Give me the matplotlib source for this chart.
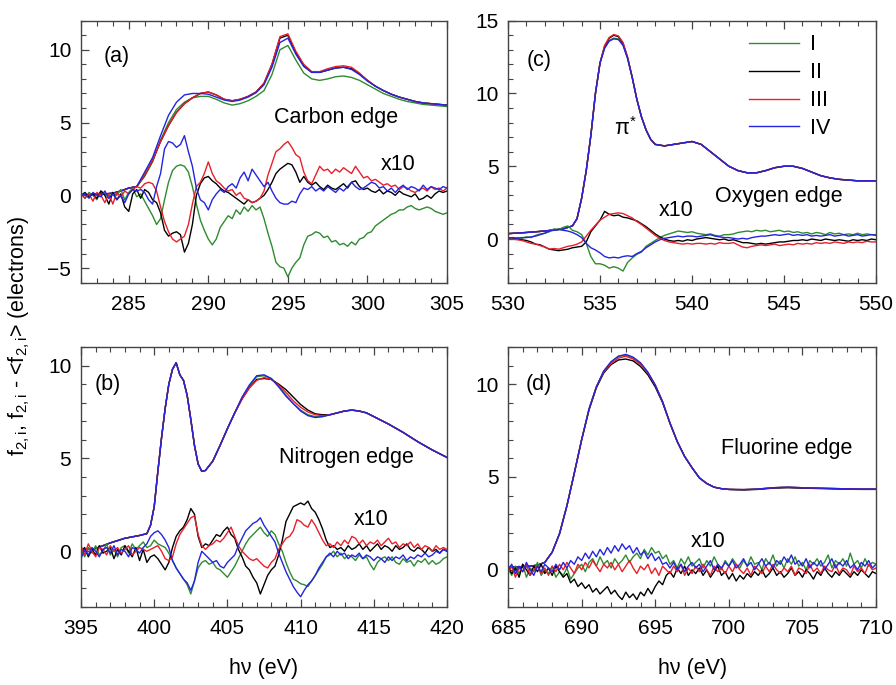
import numpy as np
import matplotlib
matplotlib.use('Agg')
import matplotlib.pyplot as plt
from matplotlib.ticker import MultipleLocator

plt.rcParams['font.family'] = ['Liberation Sans', 'DejaVu Sans']
plt.rcParams['mathtext.fontset'] = 'custom'
plt.rcParams['mathtext.rm'] = 'Liberation Sans'
plt.rcParams['mathtext.it'] = 'Liberation Sans:italic'

series_names = ['I', 'II', 'III', 'IV']
series_colors = ['#2e8b2e', '#000000', '#e8202a', '#2424e0']

# ============= CARBON EDGE (a) =============
# main spectra on a 0.5 eV grid, 282 .. 305 eV
carbon_I = [0.0, 0.05, 0.1, 0.1, 0.15, 0.3, 0.5, 0.6, 1.3, 2.3, 3.8, 5.0, 5.9, 6.4, 6.7, 6.8,
            6.8, 6.6, 6.35, 6.2, 6.3, 6.5, 6.8, 7.2, 8.3, 10.0, 10.3, 9.3, 8.4, 8.0, 7.9, 8.0,
            8.15, 8.2, 8.1, 7.9, 7.6, 7.3, 7.0, 6.8, 6.6, 6.45, 6.35, 6.25, 6.2, 6.15, 6.1]
carbon_II = [0.0, 0.05, 0.1, 0.1, 0.15, 0.3, 0.5, 0.6, 1.4, 2.4, 3.7, 4.8, 5.7, 6.3, 6.7, 7.0,
             7.1, 6.9, 6.6, 6.5, 6.6, 6.8, 7.1, 7.7, 9.0, 10.8, 11.0, 9.8, 8.9, 8.45, 8.45, 8.6,
             8.75, 8.8, 8.7, 8.35, 7.9, 7.5, 7.2, 6.95, 6.75, 6.6, 6.45, 6.35, 6.3, 6.25, 6.2]
carbon_III = [0.0, 0.05, 0.1, 0.1, 0.15, 0.3, 0.5, 0.6, 1.4, 2.4, 3.7, 4.8, 5.7, 6.3, 6.7, 7.0,
              7.1, 6.9, 6.6, 6.5, 6.6, 6.8, 7.1, 7.7, 9.0, 10.9, 11.1, 9.9, 9.0, 8.5, 8.5, 8.7,
              8.85, 8.9, 8.8, 8.4, 7.9, 7.5, 7.2, 6.95, 6.75, 6.6, 6.45, 6.35, 6.3, 6.25, 6.2]
carbon_IV = [0.0, 0.05, 0.1, 0.1, 0.15, 0.3, 0.5, 0.6, 1.6, 2.6, 4.1, 5.5, 6.4, 6.9, 7.0, 7.0,
             6.95, 6.75, 6.55, 6.45, 6.55, 6.75, 7.05, 7.6, 8.8, 10.5, 10.8, 9.7, 8.85, 8.45, 8.45, 8.6,
             8.75, 8.8, 8.65, 8.3, 7.85, 7.5, 7.2, 6.95, 6.75, 6.6, 6.45, 6.35, 6.3, 6.25, 6.2]
# x10 differences on a 0.25 eV grid, 282 .. 305 eV
carbon_dI = [0.1, -0.2, 0.2, 0.0, -0.3, 0.3, 0.1, -0.2, 0.2, 0.0, 0.4, -0.3, 0.2, 0.5, -0.1,
             0.1,
             -0.4, -0.9, -1.4, -2.0, -1.6, -0.3, 0.9, 1.7, 2.0, 2.1, 2.0, 1.6, 0.6, -0.6, -1.7, -2.4,
             -3.0, -3.4, -3.0, -2.2, -1.8, -1.4, -1.6, -1.0, -1.3, -0.8, -1.1, -0.7, -1.0, -0.8, -1.6, -2.6,
             -3.5, -4.6, -4.9, -5.0, -5.6, -5.0, -4.6, -4.3, -3.4, -2.8, -2.7, -2.5, -2.6, -2.9, -2.8, -3.2,
             -3.1, -3.4, -3.3, -3.5, -3.2, -3.4, -3.0, -2.9, -2.6, -2.5, -2.1, -1.9, -1.7, -1.5, -1.3, -1.2,
             -1.0, -1.0, -0.8, -0.7, -0.9, -1.0, -0.9, -0.8, -0.9, -1.1, -1.2, -1.3, -1.2]
carbon_dII = [0.0, 0.2, -0.1, 0.1, -0.2, 0.3, 0.0, -0.6, 0.2, -0.3, 0.1, -0.8, -1.1, 0.1, 0.4,
              -0.2,
              0.4, 0.2, -0.3, -0.5, -1.2, -2.4, -2.8, -2.6, -2.5, -2.7, -3.9, -3.3, -2.0, 0.0, 0.8, 1.2,
              1.3, 1.0, 0.8, 0.5, 0.3, 0.2, 0.0, -0.2, -0.4, -0.6, -0.3, -0.5, -0.4, -0.2, 0.0, 0.4,
              0.9, 1.5, 1.8, 2.0, 2.2, 2.1, 1.6, 0.9, 1.3, 0.9, 0.7, 0.9, 0.6, 0.4, 0.7, 0.5,
              0.4, 0.6, 0.8, 0.5, 0.9, 1.0, 0.6, 0.4, 0.5, 0.3, 0.2, 0.4, 0.1, 0.3, 0.2, 0.0,
              0.3, 0.1, 0.0, -0.1, 0.1, -0.3, -0.2, 0.0, -0.2, 0.1, 0.3, 0.2, 0.3]
carbon_dIII = [0.1, -0.2, 0.1, -0.4, 0.2, 0.0, -0.5, 0.1, -0.6, 0.2, -0.1, 0.3, 0.1, 0.4, 0.6,
               0.5,
               0.8, 0.9, 0.8, 0.3, -0.8, -1.8, -2.5, -3.0, -3.2, -3.0, -2.8, -2.0, -0.6, 0.6, 0.9, 1.5,
               2.3, 1.5, 1.0, 0.8, 0.5, 0.3, 0.4, 0.0, 0.2, -0.2, -0.3, -0.5, -0.4, -0.2, 0.3, 1.4,
               2.2, 3.0, 3.2, 3.5, 3.7, 3.3, 2.8, 2.6, 1.6, 1.0, 0.8, 1.4, 2.0, 1.7, 1.8, 1.5,
               1.8, 1.6, 1.9, 1.7, 1.5, 2.0, 1.6, 1.2, 1.3, 1.0, 1.1, 0.9, 0.7, 0.8, 0.6, 0.7,
               0.4, 0.6, 0.5, 0.3, 0.2, 0.4, 0.5, 0.3, 0.6, 0.4, 0.5, 0.3, 0.5]
carbon_dIV = [0.0, 0.1, -0.2, 0.2, 0.0, -0.1, 0.3, -0.2, 0.1, -0.3, 0.0, -0.5, 0.1, 0.4, 0.3,
              0.4,
              0.2, -0.3, -0.6, 0.6, 1.5, 3.2, 3.7, 3.6, 3.3, 3.5, 4.1, 3.0, 2.0, 0.5, -0.3, -0.5,
              -1.0, -0.3, 0.1, 0.4, 0.2, 0.6, 0.8, 0.5, 1.2, 1.6, 1.0, 1.8, 1.4, 1.0, 0.6, 0.9,
              0.3, -0.2, -0.5, -0.6, -0.6, -0.4, -0.5, 0.1, 0.5, 0.4, 0.6, 0.3, 0.5, 0.3, 0.6, 0.4,
              0.2, 0.5, 0.3, 0.6, 0.9, 0.6, 0.4, 0.5, 0.7, 0.9, 0.8, 0.5, 0.6, 0.3, 0.5, 0.2,
              0.5, 0.7, 0.4, 0.6, 0.5, 0.3, 0.7, 0.4, 0.6, 0.5, 0.4, 0.6, 0.5]

# ============= NITROGEN EDGE (b) =============
nitrogen_e = [395, 396, 397, 398, 399, 399.5, 399.75, 400, 400.25, 400.5, 400.75, 401, 401.25,
              401.5, 401.75, 402, 402.25, 402.5, 402.75, 403, 403.25, 403.5, 403.75, 404, 404.5,
              405, 405.5, 406, 406.5, 407, 407.5, 408, 408.5, 409, 409.5, 410, 410.5, 411, 411.5,
              412, 412.5, 413, 413.5, 414, 414.5, 415, 416, 417, 418, 419, 420]
nitrogen_I = [0.05, 0.15, 0.45, 0.7, 0.85, 0.95, 1.4, 2.4, 4.3, 6.1, 7.7, 9.0, 9.8, 10.15, 9.5,
              9.2, 8.4, 7.1, 5.7, 4.7, 4.3, 4.35, 4.6, 4.85, 5.7, 6.6, 7.45, 8.25, 8.9, 9.4, 9.45,
              9.3, 8.9, 8.4, 7.95, 7.6, 7.35, 7.25, 7.25, 7.35, 7.45, 7.55, 7.6, 7.55, 7.45, 7.25,
              6.85, 6.4, 5.9, 5.45, 5.05]
nitrogen_II = [0.05, 0.15, 0.45, 0.7, 0.85, 0.95, 1.4, 2.4, 4.3, 6.1, 7.7, 9.0, 9.8, 10.15, 9.5,
               9.2, 8.4, 7.1, 5.7, 4.7, 4.3, 4.35, 4.6, 4.85, 5.7, 6.6, 7.45, 8.2, 8.8, 9.25, 9.3,
               9.25, 9.0, 8.7, 8.3, 7.9, 7.6, 7.4, 7.35, 7.35, 7.45, 7.55, 7.6, 7.55, 7.45, 7.25,
               6.85, 6.4, 5.9, 5.45, 5.05]
nitrogen_III = [0.05, 0.15, 0.45, 0.7, 0.85, 0.95, 1.4, 2.4, 4.3, 6.1, 7.7, 9.0, 9.8, 10.15, 9.5,
                9.2, 8.4, 7.1, 5.7, 4.7, 4.3, 4.35, 4.6, 4.85, 5.7, 6.6, 7.45, 8.2, 8.8, 9.2, 9.35,
                9.25, 8.95, 8.55, 8.1, 7.75, 7.5, 7.35, 7.3, 7.35, 7.45, 7.55, 7.6, 7.55, 7.45, 7.25,
                6.85, 6.4, 5.9, 5.45, 5.05]
nitrogen_IV = [0.05, 0.15, 0.45, 0.7, 0.85, 0.95, 1.4, 2.4, 4.3, 6.1, 7.7, 9.0, 9.8, 10.15, 9.5,
               9.2, 8.4, 7.1, 5.7, 4.7, 4.3, 4.35, 4.6, 4.85, 5.7, 6.6, 7.45, 8.3, 8.95, 9.45, 9.5,
               9.3, 8.85, 8.35, 7.95, 7.55, 7.3, 7.2, 7.25, 7.35, 7.45, 7.55, 7.6, 7.55, 7.45, 7.25,
               6.85, 6.4, 5.9, 5.45, 5.05]
# x10 differences, 0.25 eV grid, 395 .. 420 eV
nitrogen_dI = [0.1, -0.3, 0.2, -0.1, 0.3, -0.2, 0.0, 0.4, -0.2, 0.1, -0.3, 0.2, 0.3, -0.1, 0.4, 0.1, 0.3, 0.5, 0.2, 0.3,
               0.6, 0.4, 0.3, 0.2, -0.1, -0.5, -0.9, -1.2, -1.5, -1.8, -2.3, -1.6, -0.9, -0.6, -0.5, -0.7,
               -0.6, -0.9, -1.0, -1.2, -1.4, -1.1, -0.8, -0.4, 0.0, 0.4, 0.7, 0.9, 1.1, 1.3, 1.0, 0.8,
               1.1, 0.9, 0.4, 0.0, -0.6, -1.1, -1.5, -1.6, -1.75, -1.8, -1.9, -1.6, -1.3, -1.0, -0.7, -0.3,
               -0.2, 0.0, -0.3, -0.1, -0.4, -0.2, -0.3, -0.5, -0.2, -0.4, -0.3, -0.7, -1.0, -0.6, -0.4, -0.3,
               -0.5, -0.3, -0.6, -0.7, -0.4, -0.6, -0.5, -0.8, -0.5, -0.6, -0.4, -0.7, -0.5, -0.7, -0.6, -0.4,
               -0.3]
nitrogen_dII = [0.0, 0.2, -0.3, 0.1, -0.2, 0.3, -0.1, 0.0, 0.2, -0.4, 0.1, -0.2, 0.3, 0.0, -0.3, 0.2, -0.5, 0.1, -0.6, -0.3,
                -0.2, -0.4, -0.7, -1.0, -0.6, 0.2, 0.8, 1.1, 1.3, 1.7, 2.3, 2.0, 0.8, 0.2, 0.4, 0.3,
                0.6, 0.9, 0.8, 1.1, 1.3, 0.9, 0.7, 0.1, -0.3, -0.8, -1.0, -1.4, -1.7, -2.3, -1.8, -1.3,
                -1.0, -0.8, -0.2, 0.6, 1.6, 2.0, 2.4, 2.5, 2.6, 2.5, 2.7, 2.3, 2.1, 1.7, 1.2, 0.6,
                0.2, 0.3, 0.1, 0.2, 0.0, 0.3, 0.1, 0.2, 0.4, 0.1, 0.3, 0.0, 0.2, 0.4, 0.1, 0.3,
                0.2, 0.0, 0.3, 0.1, 0.2, 0.4, 0.1, 0.0, 0.2, 0.1, -0.1, 0.2, 0.0, 0.1, -0.1, 0.1,
                0.0]
nitrogen_dIII = [0.3, -0.2, 0.4, 0.0, -0.3, 0.2, 0.1, -0.2, 0.3, 0.0, 0.2, -0.1, 0.1, 0.3, -0.2, 0.0, 0.2, 0.1, 0.0, 0.1,
                 0.2, 0.3, 0.0, -0.4, -0.5, -0.3, 0.4, 0.9, 1.2, 1.5, 1.8, 1.9, 0.9, 0.3, 0.1, 0.3,
                 0.4, 0.6, 0.5, 0.7, 1.0, 1.3, 0.8, 0.3, 0.0, -0.2, -0.4, -0.5, -0.4, -0.6, -0.8, -0.9,
                 -0.6, -0.4, 0.1, 0.4, 0.7, 0.8, 1.1, 1.7, 1.6, 1.4, 1.3, 1.7, 1.4, 1.0, 0.6, 0.3,
                 0.4, 0.2, 0.5, 0.3, 0.6, 0.4, 0.8, 0.7, 0.4, 0.6, 0.3, 0.5, 0.4, 0.6, 0.3, 0.5,
                 0.7, 0.4, 0.5, 0.2, 0.4, 0.3, 0.5, 0.2, 0.4, 0.1, 0.3, 0.2, 0.0, 0.3, 0.1, 0.2,
                 0.1]
nitrogen_dIV = [-0.4, 0.1, -0.2, 0.2, 0.0, -0.3, 0.1, 0.2, -0.1, 0.3, -0.2, 0.1, 0.0, -0.3, 0.2, 0.1, -0.1, 0.2, 0.4, 0.8,
                1.0, 1.1, 0.9, 0.6, 0.2, -0.5, -0.9, -1.2, -1.5, -1.7, -2.1, -1.6, -0.6, 0.0, -0.2, -0.4,
                -0.6, -0.5, -0.8, -0.9, -0.6, -0.4, -0.2, 0.3, 0.7, 1.1, 1.3, 1.5, 1.6, 1.8, 1.4, 1.1,
                0.8, 0.5, -0.1, -0.6, -1.1, -1.5, -1.9, -2.2, -2.45, -2.1, -1.8, -1.6, -1.3, -0.9, -0.6, -0.3,
                -0.1, -0.3, 0.0, -0.2, -0.1, -0.4, -0.2, -0.3, -0.1, -0.4, -0.2, -0.3, -0.5, -0.3, -0.4, -0.6,
                -0.3, -0.5, -0.3, -0.4, -0.2, -0.5, -0.3, -0.4, -0.2, -0.3, -0.1, -0.3, -0.2, 0.0, -0.1, 0.1,
                0.0]

# ============= OXYGEN EDGE (c) =============
oxygen_e = [530, 531, 532, 533, 533.5, 533.75, 534, 534.25, 534.5, 534.75, 535, 535.25, 535.5,
            535.75, 536, 536.25, 536.5, 536.75, 537, 537.25, 537.5, 537.75, 538, 538.5, 539,
            539.5, 540, 540.5, 541, 541.5, 542, 542.5, 543, 543.5, 544, 544.5, 545, 545.5, 546,
            546.5, 547, 547.5, 548, 549, 550]
oxygen_I = [0.37, 0.45, 0.55, 0.7, 0.9, 1.4, 2.8, 4.7, 7.1, 10.0, 12.1, 13.15, 13.65, 13.8, 13.75,
            13.35, 12.4, 11.1, 9.6, 8.4, 7.5, 6.85, 6.5, 6.4, 6.5, 6.6, 6.7, 6.5, 6.0, 5.5, 5.0,
            4.7, 4.55, 4.55, 4.7, 4.9, 5.0, 5.0, 4.85, 4.6, 4.35, 4.2, 4.1, 4.0, 4.0]
oxygen_II = [0.37, 0.45, 0.55, 0.7, 0.9, 1.4, 2.8, 4.7, 7.1, 10.0, 12.1, 13.25, 13.8, 14.0, 13.9,
             13.45, 12.45, 11.1, 9.6, 8.4, 7.5, 6.85, 6.5, 6.4, 6.5, 6.6, 6.7, 6.5, 6.0, 5.5, 5.0,
             4.7, 4.55, 4.55, 4.7, 4.9, 5.0, 5.0, 4.85, 4.6, 4.35, 4.2, 4.1, 4.0, 4.0]
oxygen_III = [0.37, 0.45, 0.55, 0.7, 0.9, 1.4, 2.8, 4.7, 7.1, 10.0, 12.1, 13.3, 13.85, 14.05, 13.95,
              13.5, 12.5, 11.1, 9.6, 8.4, 7.5, 6.85, 6.5, 6.4, 6.5, 6.6, 6.7, 6.5, 6.0, 5.5, 5.0,
              4.7, 4.55, 4.55, 4.7, 4.9, 5.0, 5.0, 4.85, 4.6, 4.35, 4.2, 4.1, 4.0, 4.0]
oxygen_IV = [0.37, 0.45, 0.55, 0.7, 0.9, 1.4, 2.8, 4.7, 7.1, 10.0, 12.1, 13.1, 13.6, 13.75, 13.7,
             13.3, 12.4, 11.1, 9.6, 8.4, 7.5, 6.85, 6.5, 6.4, 6.5, 6.6, 6.7, 6.5, 6.0, 5.5, 5.0,
             4.7, 4.55, 4.55, 4.7, 4.9, 5.0, 5.0, 4.85, 4.6, 4.35, 4.2, 4.1, 4.0, 4.0]
# x10 differences, 0.25 eV grid, 530 .. 550 eV
oxygen_dI = [0.05, 0.0, 0.1, 0.05, 0.15, 0.1, 0.25, 0.35, 0.4, 0.5, 0.7, 0.65, 0.8, 0.9, 0.6, 0.5,
             0.3, -0.3, -1.2, -1.7, -1.7, -1.8, -2.0, -1.9, -2.0, -2.2, -1.6, -1.3, -1.05, -0.9, -0.5, -0.3,
             -0.1, 0.1, 0.25, 0.35, 0.45, 0.55, 0.5, 0.45, 0.5, 0.4, 0.35, 0.3, 0.35, 0.25, 0.2, 0.3,
             0.3, 0.35, 0.45, 0.5, 0.55, 0.5, 0.6, 0.55, 0.6, 0.5, 0.55, 0.6, 0.5, 0.55, 0.45, 0.5,
             0.4, 0.45, 0.35, 0.45, 0.4, 0.3, 0.45, 0.35, 0.4, 0.3, 0.35, 0.3, 0.4, 0.3, 0.35, 0.3,
             0.3]
oxygen_dII = [0.1, 0.05, 0.0, -0.05, -0.1, -0.2, -0.35, -0.4, -0.55, -0.7, -0.75, -0.8, -0.75, -0.7, -0.6, -0.55,
              -0.5, -0.2, 0.5, 0.9, 1.3, 1.9, 1.7, 1.6, 1.65, 1.5, 1.45, 1.35, 1.25, 1.05, 0.85, 0.6,
              0.35, 0.15, 0.0, -0.1, -0.15, -0.1, -0.15, -0.05, -0.1, 0.0, 0.05, 0.1, 0.05, 0.0, -0.05, 0.0,
              -0.1, -0.05, -0.15, -0.25, -0.25, -0.3, -0.35, -0.3, -0.35, -0.3, -0.25, -0.2, -0.2, -0.15, -0.1, -0.1,
              -0.05, -0.1, 0.0, -0.05, -0.1, 0.0, -0.05, -0.1, -0.05, -0.1, -0.15, -0.05, -0.1, -0.05, -0.1, 0.0,
              -0.05]
oxygen_dIII = [0.05, 0.0, -0.05, -0.1, -0.2, -0.3, -0.35, -0.45, -0.55, -0.7, -0.65, -0.7, -0.6, -0.5, -0.45, -0.35,
               -0.2, 0.2, 0.6, 0.95, 1.3, 1.5, 1.7, 1.75, 1.8, 1.75, 1.6, 1.45, 1.2, 1.0, 0.75, 0.5,
               0.25, 0.05, -0.1, -0.2, -0.25, -0.3, -0.35, -0.3, -0.35, -0.3, -0.3, -0.35, -0.3, -0.35, -0.25, -0.3,
               -0.3, -0.25, -0.4, -0.55, -0.6, -0.5, -0.45, -0.4, -0.45, -0.4, -0.35, -0.45, -0.4, -0.35, -0.4, -0.3,
               -0.35, -0.3, -0.35, -0.25, -0.3, -0.25, -0.3, -0.2, -0.25, -0.3, -0.2, -0.25, -0.2, -0.25, -0.15, -0.2,
               -0.2]
oxygen_dIV = [0.05, 0.1, 0.05, 0.1, 0.1, 0.15, 0.2, 0.3, 0.4, 0.55, 0.6, 0.65, 0.6, 0.55, 0.45, 0.3,
              0.1, -0.3, -0.6, -0.75, -0.95, -1.2, -1.3, -1.25, -1.3, -1.2, -1.15, -1.2, -1.0, -0.85, -0.6, -0.4,
              -0.2, -0.05, 0.05, 0.1, 0.15, 0.2, 0.15, 0.2, 0.2, 0.15, 0.2, 0.25, 0.3, 0.2, 0.15, 0.1,
              0.1, 0.05, 0.0, 0.05, 0.0, 0.1, 0.15, 0.2, 0.2, 0.25, 0.3, 0.25, 0.3, 0.35, 0.25, 0.3,
              0.25, 0.3, 0.2, 0.25, 0.2, 0.25, 0.3, 0.2, 0.25, 0.3, 0.2, 0.25, 0.3, 0.2, 0.25, 0.3,
              0.25]

# ============= FLUORINE EDGE (d) =============
fluorine_e = [685, 686, 687, 687.5, 688, 688.5, 689, 689.5, 690, 690.5, 691, 691.5, 692, 692.5,
              693, 693.5, 694, 694.5, 695, 695.5, 696, 696.5, 697, 697.5, 698, 698.5, 699, 699.5,
              700, 701, 702, 703, 704, 705, 706, 707, 708, 709, 710]
fluorine_I = [0.15, 0.15, 0.25, 0.4, 0.95, 1.95, 3.45, 5.2, 7.0, 8.65, 9.85, 10.7, 11.2, 11.5,
              11.55, 11.4, 11.1, 10.6, 9.95, 9.05, 7.9, 6.9, 6.1, 5.5, 4.95, 4.65, 4.45, 4.37,
              4.33, 4.32, 4.35, 4.42, 4.45, 4.42, 4.4, 4.38, 4.36, 4.35, 4.35]
fluorine_II = [0.15, 0.15, 0.25, 0.4, 0.95, 1.95, 3.45, 5.2, 7.0, 8.6, 9.8, 10.6, 11.05, 11.3,
               11.35, 11.25, 10.95, 10.5, 9.85, 9.0, 7.9, 6.9, 6.1, 5.5, 4.95, 4.65, 4.45, 4.37,
               4.33, 4.3, 4.33, 4.4, 4.42, 4.4, 4.38, 4.36, 4.34, 4.33, 4.33]
fluorine_III = [0.15, 0.15, 0.25, 0.4, 0.95, 1.95, 3.45, 5.2, 7.0, 8.65, 9.85, 10.65, 11.1, 11.4,
                11.5, 11.35, 11.05, 10.6, 9.95, 9.05, 7.9, 6.9, 6.1, 5.5, 4.95, 4.65, 4.45, 4.37,
                4.33, 4.32, 4.35, 4.42, 4.45, 4.42, 4.4, 4.38, 4.36, 4.35, 4.35]
fluorine_IV = [0.15, 0.15, 0.25, 0.4, 0.95, 1.95, 3.45, 5.2, 7.0, 8.65, 9.85, 10.7, 11.2, 11.5,
               11.6, 11.45, 11.15, 10.65, 9.95, 9.05, 7.9, 6.9, 6.1, 5.5, 4.95, 4.65, 4.45, 4.37,
               4.33, 4.32, 4.35, 4.42, 4.45, 4.42, 4.4, 4.38, 4.36, 4.35, 4.35]
# x10 differences, 0.25 eV grid, 685 .. 710 eV
fluorine_dI = [0.1, -0.3, 0.2, -0.2, 0.3, -0.4, 0.1, -0.1, 0.4, -0.3, 0.0, -0.2,
               0.2, -0.4, -0.1, -0.3, 0.1, -0.5, -0.2, 0.1,
               0.3, -0.1, 0.4, 0.6, 0.2, 0.7, 0.3, 0.5,
               0.1, 0.6, 0.3, 0.5, 0.8, 0.4, 0.7, 0.9,
               0.6, 1.1, 0.8, 1.2, 0.9, 1.0, 0.6, 0.8,
               0.3, 0.5, 0.1, 0.6, 0.3, 0.7, 0.2, 0.4,
               0.6, 0.1, 0.5, 0.2, 0.7, 0.3, 0.0, 0.5,
               0.2, 0.6, 0.3, 0.1, 0.5, 0.2, 0.7, 0.3,
               0.4, 0.0, 0.6, 0.3, 0.8, 0.2, 0.5, 0.1,
               0.6, 0.3, 0.7, 0.2, 0.4, 0.0, 0.5, 0.3,
               0.6, 0.2, 0.4, 0.8, 0.1, 0.5, 0.3, 0.6,
               0.2, 0.9, 0.3, 0.5, 0.1, 0.6, 0.2, 0.4,
               0.3]
fluorine_dII = [0.2, -0.2, 0.1, -0.4, 0.3, 0.0, -0.3, 0.2, -0.1, 0.3, -0.2, 0.1,
                -0.3, 0.2, -0.1, -0.4, -0.2, -0.7, -0.5, -0.9,
                -0.7, -1.0, -0.8, -1.2, -1.0, -1.3, -1.1, -0.9,
                -1.3, -1.1, -1.4, -1.6, -1.2, -1.5, -1.3, -1.6,
                -1.2, -1.4, -1.0, -1.3, -0.9, -0.6, -0.8, -0.3,
                -0.1, -0.4, 0.1, -0.2, 0.2, -0.3, 0.0, -0.2,
                0.1, -0.3, 0.0, -0.4, -0.1, 0.2, -0.3, -0.1,
                -0.5, -0.2, -0.6, -0.3, -0.5, -0.2, -0.4, -0.1,
                -0.3, 0.0, -0.4, -0.2, 0.1, -0.3, -0.1, -0.4,
                -0.2, 0.1, -0.3, -0.1, -0.4, 0.0, -0.2, -0.5,
                -0.1, -0.3, 0.1, -0.2, -0.4, -0.1, -0.3, 0.0,
                -0.2, -0.4, -0.1, -0.3, 0.0, -0.2, -0.4, -0.1,
                -0.2]
fluorine_dIII = [-0.2, 0.2, -0.4, 0.1, -0.1, 0.3, -0.3, 0.0, 0.2, -0.2, 0.1, -0.3,
                 0.2, -0.1, 0.3, 0.0, 0.4, 0.1, -0.2, 0.3,
                 0.0, 0.4, 0.1, 0.5, 0.2, -0.1, 0.3, 0.1,
                 0.4, 0.0, 0.3, -0.1, 0.2, 0.5, 0.1, -0.2,
                 0.2, 0.0, 0.3, -0.2, 0.1, -0.3, 0.2, 0.0,
                 -0.2, 0.2, -0.1, 0.3, -0.3, 0.1, -0.2, 0.2,
                 -0.1, 0.3, 0.0, -0.3, 0.2, -0.1, 0.1, -0.2,
                 0.2, -0.1, 0.3, 0.0, -0.2, 0.1, -0.3, 0.2,
                 0.0, -0.2, 0.2, -0.1, 0.3, 0.0, -0.2, 0.1,
                 -0.1, 0.2, -0.3, 0.1, 0.0, -0.2, 0.3, -0.1,
                 0.1, -0.2, 0.2, 0.0, -0.1, 0.3, -0.2, 0.1,
                 0.0, -0.3, 0.2, -0.1, 0.1, -0.2, 0.3, 0.0,
                 0.1]
fluorine_dIV = [0.0, 0.3, -0.2, 0.2, -0.1, 0.4, 0.0, -0.3, 0.2, -0.1, 0.3, 0.1,
                -0.1, 0.3, 0.0, 0.4, 0.1, 0.5, 0.3, 0.7,
                0.5, 0.9, 0.6, 1.0, 0.7, 1.1, 0.8, 1.2,
                0.9, 1.3, 1.0, 1.4, 1.1, 1.3, 0.9, 1.2,
                0.8, 1.0, 0.6, 0.9, 0.5, 0.7, 0.3, 0.4,
                0.1, 0.4, 0.0, 0.3, -0.1, 0.2, 0.4, 0.1,
                0.3, -0.1, 0.2, 0.5, 0.0, 0.3, 0.1, 0.4,
                0.2, 0.5, 0.1, 0.3, 0.6, 0.2, 0.4, 0.0,
                0.3, 0.6, 0.2, 0.4, 0.1, 0.5, 0.3, 0.7,
                0.4, 0.8, 0.3, 0.5, 0.2, 0.6, 0.1, 0.4,
                0.2, 0.5, 0.0, 0.3, 0.6, 0.1, 0.4, 0.2,
                0.5, 0.1, 0.3, 0.0, 0.4, 0.2, 0.5, 0.1,
                0.3]

FS = 15.5
FRAME = '#444444'

fig = plt.figure(figsize=(8.96, 6.85), dpi=100)
fig.patch.set_facecolor('white')

ax_a = fig.add_axes([0.0904, 0.5873, 0.4085, 0.3825])
ax_c = fig.add_axes([0.5670, 0.5873, 0.4107, 0.3825])
ax_b = fig.add_axes([0.0904, 0.1139, 0.4085, 0.3796])
ax_d = fig.add_axes([0.5670, 0.1139, 0.4107, 0.3796])


def draw_panel(ax, e_main, mains, dlim, diffs, xlim, ylim):
    for vals, col, name in zip(mains, series_colors, series_names):
        ax.plot(e_main, vals, color=col, lw=1.0, label=name)
    for vals, col in zip(diffs, series_colors):
        ex = np.linspace(dlim[0], dlim[1], len(vals))
        ax.plot(ex, vals, color=col, lw=1.0)
    ax.set_xlim(*xlim)
    ax.set_ylim(*ylim)
    ax.xaxis.set_major_locator(MultipleLocator(5))
    ax.xaxis.set_minor_locator(MultipleLocator(1))
    ax.yaxis.set_major_locator(MultipleLocator(5))
    ax.yaxis.set_minor_locator(MultipleLocator(1))
    ax.tick_params(which='both', direction='in', top=True, right=False,
                   color=FRAME, labelsize=15)
    ax.tick_params(which='major', length=6, width=0.9)
    ax.tick_params(which='minor', length=3.5, width=0.8)
    ax.tick_params(axis='x', pad=9)
    ax.tick_params(axis='y', pad=7)
    for sp in ax.spines.values():
        sp.set_color(FRAME)
        sp.set_linewidth(1.0)


draw_panel(ax_a, np.linspace(282, 305, len(carbon_I)),
           [carbon_I, carbon_II, carbon_III, carbon_IV], (282, 305),
           [carbon_dI, carbon_dII, carbon_dIII, carbon_dIV], (282, 305), (-6, 12))
draw_panel(ax_b, nitrogen_e, [nitrogen_I, nitrogen_II, nitrogen_III, nitrogen_IV], (395, 420),
           [nitrogen_dI, nitrogen_dII, nitrogen_dIII, nitrogen_dIV], (395, 420), (-3, 11))
draw_panel(ax_c, oxygen_e, [oxygen_I, oxygen_II, oxygen_III, oxygen_IV], (530, 550),
           [oxygen_dI, oxygen_dII, oxygen_dIII, oxygen_dIV], (530, 550), (-3, 15))
draw_panel(ax_d, fluorine_e, [fluorine_I, fluorine_II, fluorine_III, fluorine_IV], (685, 710),
           [fluorine_dI, fluorine_dII, fluorine_dIII, fluorine_dIV], (685, 710), (-2, 12))

# panel labels and annotations
def note(ax, x, y, s):
    ax.text(x, y, s, transform=ax.transAxes, fontsize=FS, ha='center', va='center')

note(ax_a, 0.098, 0.865, '(a)')
note(ax_a, 0.697, 0.632, 'Carbon edge')
note(ax_a, 0.866, 0.453, 'x10')

note(ax_b, 0.074, 0.854, '(b)')
note(ax_b, 0.724, 0.573, 'Nitrogen edge')
note(ax_b, 0.792, 0.335, 'x10')

note(ax_c, 0.084, 0.847, '(c)')
note(ax_c, 0.320, 0.588, 'π$^{*}$')
note(ax_c, 0.736, 0.328, 'Oxygen edge')
note(ax_c, 0.457, 0.275, 'x10')

note(ax_d, 0.084, 0.854, '(d)')
note(ax_d, 0.758, 0.608, 'Fluorine edge')
note(ax_d, 0.543, 0.250, 'x10')

ax_c.legend(loc='upper left', bbox_to_anchor=(0.655, 0.948), frameon=False, fontsize=FS,
            handlelength=2.3, handletextpad=0.55, labelspacing=0.32,
            borderpad=0, borderaxespad=0)

fig.text(0.022, 0.51, r'f$_{\mathrm{2,i}}$, f$_{\mathrm{2,i}}$ - <f$_{\mathrm{2,i}}$> (electrons)',
         rotation=90, fontsize=FS, ha='center', va='center')
fig.text(0.2946, 0.024, 'hν (eV)', fontsize=FS, ha='center', va='center')
fig.text(0.7724, 0.024, 'hν (eV)', fontsize=FS, ha='center', va='center')

plt.savefig('out.png', dpi=100, facecolor='white')
